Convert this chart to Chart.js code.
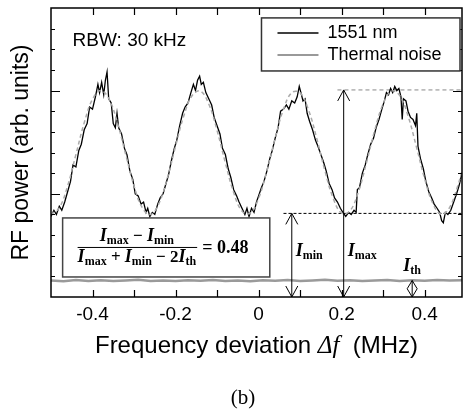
<!DOCTYPE html>
<html>
<head>
<meta charset="utf-8">
<script src="https://cdn.jsdelivr.net/npm/chart.js@4/dist/chart.umd.min.js"></script>
<style>
  html, body { margin: 0; padding: 0; background: #fff; }
</style>
</head>
<body>
<canvas id="rf" width="469" height="416"></canvas>
<script>
// measured spectrum, 1551 nm (MHz, arb. units)
const freq = [
  -0.500, -0.493, -0.487, -0.480, -0.474, -0.467, -0.460, -0.453, -0.447, -0.440,
  -0.433, -0.427, -0.420, -0.413, -0.407, -0.400, -0.393, -0.387, -0.383, -0.378,
  -0.373, -0.369, -0.365, -0.361, -0.355, -0.350, -0.345, -0.341, -0.337, -0.330,
  -0.323, -0.317, -0.310, -0.303, -0.297, -0.290, -0.283, -0.277, -0.271, -0.267,
  -0.262, -0.256, -0.250, -0.243, -0.237, -0.230, -0.223, -0.217, -0.210, -0.203,
  -0.197, -0.190, -0.183, -0.177, -0.170, -0.163, -0.157, -0.152, -0.147, -0.142,
  -0.138, -0.133, -0.127, -0.120, -0.113, -0.107, -0.100, -0.093, -0.087, -0.080,
  -0.073, -0.067, -0.060, -0.053, -0.047, -0.040, -0.033, -0.028, -0.023, -0.017,
  -0.011, -0.005, 0.000, 0.007, 0.013, 0.020, 0.027, 0.033, 0.040, 0.047,
  0.053, 0.060, 0.067, 0.073, 0.080, 0.087, 0.093, 0.098, 0.102, 0.107,
  0.112, 0.117, 0.123, 0.130, 0.137, 0.143, 0.150, 0.157, 0.163, 0.170,
  0.177, 0.183, 0.190, 0.197, 0.203, 0.210, 0.217, 0.223, 0.230, 0.235,
  0.238, 0.243, 0.250, 0.257, 0.263, 0.270, 0.277, 0.283, 0.290, 0.297,
  0.303, 0.308, 0.313, 0.318, 0.323, 0.328, 0.333, 0.338, 0.343, 0.346,
  0.349, 0.355, 0.360, 0.366, 0.372, 0.378, 0.381, 0.384, 0.390, 0.397,
  0.403, 0.410, 0.417, 0.423, 0.430, 0.436, 0.441, 0.445, 0.450, 0.456,
  0.463, 0.470, 0.477, 0.483, 0.490
];
const power1551 = [
  3.9, 4.2, 4.0, 4.4, 4.2, 4.6, 5.1, 5.6, 6.4, 6.3,
  7.1, 7.4, 8.1, 8.4, 9.2, 9.1, 9.7, 10.3, 9.9, 10.4,
  9.8, 10.5, 10.9, 9.6, 9.4, 8.4, 8.2, 8.9, 8.2, 7.9,
  7.2, 6.9, 6.1, 5.7, 5.0, 4.9, 4.5, 4.6, 4.1, 4.3,
  3.9, 4.1, 4.0, 4.5, 4.8, 5.0, 5.5, 5.9, 6.6, 7.2,
  7.6, 8.3, 8.9, 9.2, 9.4, 9.9, 10.3, 10.0, 10.5, 10.7,
  10.3, 10.4, 9.9, 9.6, 9.3, 8.7, 8.3, 7.9, 7.2, 6.9,
  6.2, 5.8, 5.2, 4.9, 4.6, 4.3, 4.0, 4.3, 3.9, 4.3,
  4.1, 4.6, 4.9, 5.3, 5.6, 6.1, 6.7, 7.1, 7.7, 8.2,
  9.0, 9.1, 9.3, 9.1, 9.5, 9.4, 9.7, 10.2, 9.9, 9.5,
  9.6, 8.9, 8.5, 8.1, 7.6, 7.3, 6.9, 6.5, 6.1, 5.5,
  5.2, 4.8, 4.6, 4.3, 4.1, 3.9, 4.1, 4.0, 4.2, 4.1,
  5.2, 5.3, 6.0, 6.4, 6.9, 7.4, 7.7, 8.2, 8.6, 9.1,
  9.5, 9.9, 9.8, 10.1, 9.9, 10.2, 10.0, 10.1, 9.7, 8.6,
  9.6, 9.5, 9.0, 8.7, 8.6, 8.3, 8.9, 7.3, 6.7, 6.2,
  5.6, 5.1, 4.8, 4.5, 4.3, 4.1, 3.7, 3.6, 4.1, 4.0,
  4.2, 4.6, 5.0, 5.4, 6.0
];

// fitted curve (grey dashed, mostly hidden under the data)
const fitFreq = [
  -0.50, -0.48, -0.46, -0.44, -0.42, -0.40, -0.38, -0.36, -0.34, -0.32,
  -0.30, -0.28, -0.26, -0.24, -0.22, -0.20, -0.18, -0.16, -0.14, -0.12,
  -0.10, -0.08, -0.06, -0.04, -0.02, 0.00, 0.02, 0.04, 0.06, 0.08,
  0.10, 0.12, 0.14, 0.16, 0.18, 0.20, 0.22, 0.24, 0.26, 0.28,
  0.30, 0.32, 0.34, 0.36, 0.38, 0.40, 0.42, 0.44, 0.46, 0.48, 0.49
];
const fitPower = [
  4.0, 4.32, 5.38, 6.9, 8.44, 9.58, 10.0, 9.58, 8.44, 6.9,
  5.38, 4.32, 4.0, 4.53, 5.74, 7.3, 8.78, 9.76, 9.97, 9.35,
  8.07, 6.5, 5.06, 4.16, 4.06, 4.78, 6.11, 7.7, 9.09, 9.9,
  9.89, 9.08, 7.69, 6.1, 4.77, 4.06, 4.17, 5.07, 6.51, 8.09,
  9.36, 9.97, 9.76, 8.77, 7.29, 5.73, 4.52, 4.01, 4.33, 5.4, 6.1
];

// thermal noise floor
const noiseFreq = [
  -0.50, -0.47, -0.44, -0.41, -0.38, -0.35, -0.32, -0.29, -0.26, -0.23,
  -0.20, -0.17, -0.14, -0.11, -0.08, -0.05, -0.02, 0.01, 0.04, 0.07,
  0.10, 0.13, 0.16, 0.19, 0.22, 0.25, 0.28, 0.31, 0.34, 0.37,
  0.40, 0.43, 0.46, 0.49
];
const noisePower = [
  0.80, 0.76, 0.82, 0.78, 0.81, 0.77, 0.80, 0.83, 0.78, 0.80,
  0.77, 0.81, 0.79, 0.82, 0.78, 0.80, 0.76, 0.81, 0.79, 0.82,
  0.78, 0.80, 0.83, 0.79, 0.81, 0.77, 0.80, 0.82, 0.78, 0.81,
  0.79, 0.82, 0.80, 0.81
];

const xTicks = [-0.4, -0.2, 0, 0.2, 0.4];
const xMinorStep = 0.1;
const yMinorStep = 1;
const yMajorStep = 5;

// annotation levels (same units as the data)
const iMax = 10.03, iMin = 4.05, iTh = 0.8;
const iMaxAt = 0.205, iMinAt = 0.08, iThAt = 0.37;
const contrast = "0.48";

const toXY = (xs, ys) => xs.map((x, i) => ({ x: x, y: ys[i] }));

const arial = "'Liberation Sans', Arial, sans-serif";
const serif = "'Liberation Serif', 'Times New Roman', serif";

function arrowHead(ctx, x, y, dir) {
  // open V head, dir = -1 points up, +1 points down
  ctx.beginPath();
  ctx.moveTo(x - 6, y - dir * 11);
  ctx.lineTo(x, y);
  ctx.lineTo(x + 6, y - dir * 11);
  ctx.stroke();
}

// draws a list of text runs starting at x, returns width
function runs(ctx, parts, x, y, measureOnly) {
  let w = 0;
  parts.forEach(p => {
    ctx.font = p.font;
    if (!measureOnly) ctx.fillText(p.t, x + w, y + (p.dy || 0));
    w += ctx.measureText(p.t).width;
  });
  return w;
}

const bI = "bold italic 18px " + serif;
const bSub = "bold 12px " + serif;
const bTxt = "bold 17px " + serif;

const decorations = {
  id: "decorations",
  beforeDatasetsDraw(chart) {
    const { ctx, chartArea: a, scales: { x, y } } = chart;
    ctx.save();
    // dashed guide lines for Imax / Imin
    ctx.lineWidth = 1;
    ctx.setLineDash([4, 3]);
    ctx.strokeStyle = "#888";
    ctx.beginPath();
    ctx.moveTo(x.getPixelForValue(0.19), y.getPixelForValue(iMax));
    ctx.lineTo(a.right, y.getPixelForValue(iMax));
    ctx.stroke();
    ctx.strokeStyle = "#000";
    ctx.setLineDash([3, 2]);
    ctx.beginPath();
    ctx.moveTo(x.getPixelForValue(0.06), y.getPixelForValue(iMin));
    ctx.lineTo(a.right, y.getPixelForValue(iMin));
    ctx.stroke();
    ctx.restore();
  },
  afterDraw(chart) {
    const { ctx, chartArea: a, scales: { x, y } } = chart;
    ctx.save();
    ctx.strokeStyle = "#000";
    ctx.fillStyle = "#000";

    // frame
    ctx.lineWidth = 1.5;
    ctx.strokeRect(a.left, a.top, a.right - a.left, a.bottom - a.top);

    // inward ticks
    ctx.lineWidth = 1.2;
    ctx.beginPath();
    for (let v = -0.4; v < x.max; v += xMinorStep) {
      const px = Math.round(x.getPixelForValue(v)) + 0.5;
      ctx.moveTo(px, a.bottom); ctx.lineTo(px, a.bottom - 7);
      ctx.moveTo(px, a.top); ctx.lineTo(px, a.top + 7);
    }
    for (let v = yMinorStep; v < y.max; v += yMinorStep) {
      const py = Math.round(y.getPixelForValue(v)) + 0.5;
      const len = (v % yMajorStep === 0) ? 9 : 4;
      ctx.moveTo(a.left, py); ctx.lineTo(a.left + len, py);
      ctx.moveTo(a.right, py); ctx.lineTo(a.right - len, py);
    }
    ctx.stroke();

    // arrows
    ctx.lineWidth = 1;
    const xMax = x.getPixelForValue(iMaxAt);
    const xMin = x.getPixelForValue(iMinAt);
    const xTh = x.getPixelForValue(iThAt);
    const y0 = a.bottom;
    ctx.beginPath();
    ctx.moveTo(xMax, y.getPixelForValue(iMax)); ctx.lineTo(xMax, y0);
    ctx.moveTo(xMin, y.getPixelForValue(iMin)); ctx.lineTo(xMin, y0);
    ctx.stroke();
    arrowHead(ctx, xMax, y.getPixelForValue(iMax), -1);
    arrowHead(ctx, xMax, y0, 1);
    arrowHead(ctx, xMin, y.getPixelForValue(iMin), -1);
    arrowHead(ctx, xMin, y0, 1);
    // small diamond for Ith
    const yTh = y.getPixelForValue(iTh);
    const mid = (yTh + y0) / 2;
    ctx.beginPath();
    ctx.moveTo(xTh, yTh); ctx.lineTo(xTh - 5, mid); ctx.lineTo(xTh, y0);
    ctx.lineTo(xTh + 5, mid); ctx.closePath();
    ctx.moveTo(xTh, yTh); ctx.lineTo(xTh, y0);
    ctx.stroke();

    // I labels
    ctx.textBaseline = "alphabetic";
    ctx.textAlign = "left";
    runs(ctx, [{ t: "I", font: bI }, { t: "min", font: bSub, dy: 3 }], xMin + 4, y.getPixelForValue(2.0));
    runs(ctx, [{ t: "I", font: bI }, { t: "max", font: bSub, dy: 3 }], xMax + 4, y.getPixelForValue(2.0));
    runs(ctx, [{ t: "I", font: bI }, { t: "th", font: bSub, dy: 3 }], xTh - 9, y.getPixelForValue(1.25));

    // formula box
    const bx0 = x.getPixelForValue(-0.472), bx1 = x.getPixelForValue(0.027);
    const by0 = y.getPixelForValue(3.83), by1 = y.getPixelForValue(0.97);
    ctx.fillStyle = "#fff";
    ctx.fillRect(bx0, by0, bx1 - bx0, by1 - by0);
    ctx.strokeStyle = "#444";
    ctx.lineWidth = 1.5;
    ctx.strokeRect(bx0, by0, bx1 - bx0, by1 - by0);
    ctx.fillStyle = "#000";
    const num = [
      { t: "I", font: bI }, { t: "max", font: bSub, dy: 3 },
      { t: " \u2212 ", font: bTxt },
      { t: "I", font: bI }, { t: "min", font: bSub, dy: 3 }
    ];
    const den = [
      { t: "I", font: bI }, { t: "max", font: bSub, dy: 3 },
      { t: " + ", font: bTxt },
      { t: "I", font: bI }, { t: "min", font: bSub, dy: 3 },
      { t: " \u2212 2", font: bTxt },
      { t: "I", font: bI }, { t: "th", font: bSub, dy: 3 }
    ];
    const barY = (by0 + by1) / 2;
    const wDen = runs(ctx, den, 0, 0, true);
    const wNum = runs(ctx, num, 0, 0, true);
    const fx = bx0 + 15;
    const cx = fx + wDen / 2;
    runs(ctx, num, cx - wNum / 2, barY - 6);
    runs(ctx, den, fx, barY + 15);
    ctx.strokeStyle = "#000";
    ctx.lineWidth = 1;
    ctx.beginPath();
    ctx.moveTo(fx, barY); ctx.lineTo(fx + wDen + 1, barY);
    ctx.stroke();
    ctx.font = "bold 18px " + serif;
    ctx.textBaseline = "middle";
    ctx.fillText("= " + contrast, fx + wDen + 6, barY + 1);

    // RBW note
    ctx.font = "19px " + arial;
    ctx.textBaseline = "middle";
    ctx.fillText("RBW: 30 kHz", x.getPixelForValue(-0.448), y.getPixelForValue(12.4));

    // legend
    const lx0 = x.getPixelForValue(0.007), lx1 = a.right - 2;
    const ly0 = y.getPixelForValue(13.52), ly1 = y.getPixelForValue(10.95);
    ctx.fillStyle = "#fff";
    ctx.fillRect(lx0, ly0, lx1 - lx0, ly1 - ly0);
    ctx.strokeStyle = "#333";
    ctx.lineWidth = 1.5;
    ctx.strokeRect(lx0, ly0, lx1 - lx0, ly1 - ly0);
    const rows = [
      { label: "1551 nm", color: "#000", w: 1.5 },
      { label: "Thermal noise", color: "#999", w: 2 }
    ];
    rows.forEach((r, i) => {
      const ry = ly0 + 15 + i * 22;
      ctx.strokeStyle = r.color;
      ctx.lineWidth = r.w;
      ctx.beginPath();
      ctx.moveTo(lx0 + 16, ry); ctx.lineTo(lx0 + 57, ry);
      ctx.stroke();
      ctx.fillStyle = "#000";
      ctx.font = "18px " + arial;
      ctx.fillText(r.label, lx0 + 66, ry);
    });

    // axis titles
    ctx.fillStyle = "#000";
    const xt = [
      { t: "Frequency deviation ", font: "24px " + arial },
      { t: "\u0394f", font: "italic 25px " + serif },
      { t: "  (MHz)", font: "24px " + arial }
    ];
    const wx = runs(ctx, xt, 0, 0, true);
    ctx.textBaseline = "middle";
    runs(ctx, xt, (a.left + a.right) / 2 - wx / 2, 346);

    ctx.save();
    ctx.translate(22, (a.top + a.bottom) / 2);
    ctx.rotate(-Math.PI / 2);
    ctx.textAlign = "center";
    ctx.font = "23px " + arial;
    ctx.fillText("RF power (arb. units)", 0, 0);
    ctx.restore();

    // panel label
    ctx.textAlign = "center";
    ctx.font = "21px " + serif;
    ctx.fillText("(b)", 243, 398);
    ctx.restore();
  }
};

new Chart(document.getElementById("rf"), {
  type: "line",
  plugins: [decorations],
  data: {
    datasets: [
      {
        label: "Thermal noise",
        data: toXY(noiseFreq, noisePower),
        borderColor: "#9a9a9a",
        borderWidth: 2.5,
        pointRadius: 0,
        tension: 0
      },
      {
        label: "fit",
        data: toXY(fitFreq, fitPower),
        borderColor: "#aaa",
        borderWidth: 1.5,
        borderDash: [4, 3],
        pointRadius: 0,
        tension: 0.4
      },
      {
        label: "1551 nm",
        data: toXY(freq, power1551),
        borderColor: "#000",
        borderWidth: 1.3,
        pointRadius: 0,
        tension: 0
      }
    ]
  },
  options: {
    responsive: false,
    animation: false,
    layout: { padding: { left: 51, right: 7, top: 8, bottom: 0 } },
    plugins: { legend: { display: false }, tooltip: { enabled: false } },
    scales: {
      x: {
        type: "linear",
        min: -0.5,
        max: 0.49,
        grid: { display: false },
        border: { display: false },
        afterBuildTicks: s => { s.ticks = xTicks.map(v => ({ value: v })); },
        afterFit: s => { s.height = 119; },
        ticks: {
          color: "#000",
          font: { family: "'Liberation Sans', Arial, sans-serif", size: 19 },
          padding: -2,
          maxRotation: 0,
          callback: v => (v === 0 ? "0" : v.toFixed(1))
        }
      },
      y: {
        display: false,
        min: 0,
        max: 14
      }
    }
  }
});
</script>
</body>
</html>
